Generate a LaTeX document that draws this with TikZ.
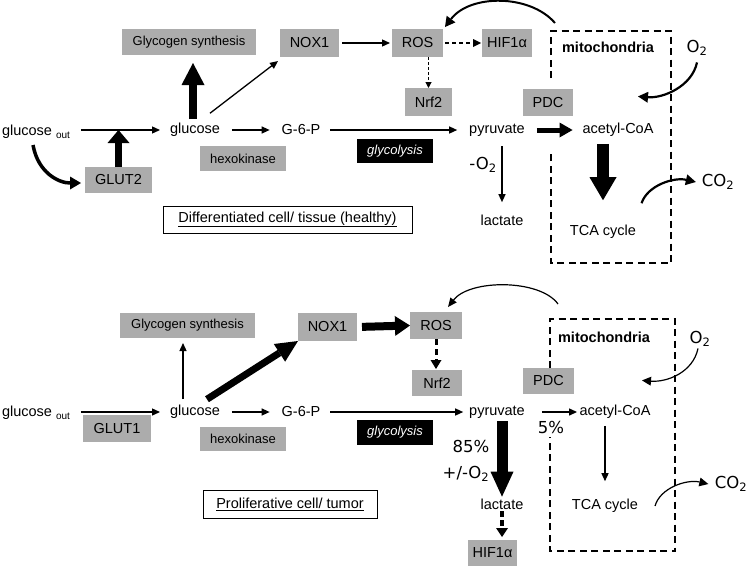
\documentclass[tikz,border=0pt]{standalone}
\usepackage{fontspec}
\setmainfont{Liberation Sans}
\newfontfamily\dvs{DejaVu Sans}
\usetikzlibrary{arrows.meta,calc}
\definecolor{boxgray}{RGB}{172,172,172}
\begin{document}
\begin{tikzpicture}[x=1pt,y=-1pt,
 every node/.style={inner sep=0pt, outer sep=0pt},
 sz/.style 2 args={minimum width=#1pt, minimum height=#2pt},
 txt/.style={font=\fontsize{14.5}{17}\selectfont},
 gbox/.style={fill=boxgray, font=\fontsize{14.5}{17}\selectfont},
 sbox/.style={fill=boxgray, font=\fontsize{13}{15}\selectfont},
 bbox/.style={fill=black, text=white, font=\fontsize{13}{15}\selectfont\itshape},
 lbl/.style={font=\dvs\fontsize{16.5}{19}\selectfont},
 mitotxt/.style={font=\bfseries\fontsize{14.5}{17}\selectfont},
 ttl/.style={draw=black, line width=1pt, fill=white, font=\fontsize{14.5}{17}\selectfont},
 arr/.style={line width=1.3pt, -{Triangle[length=8pt,width=7pt]}},
 fat/.style n args={3}{line width=#1pt, -{Triangle[width=#2pt,length=#3pt,line width=0pt]}},
 dbox/.style={line width=1.8pt, dash pattern=on 7pt off 4.5pt},
]
\useasboundingbox (0,0) rectangle (750,568);

% ================= TOP: differentiated cell =================
\node[txt, anchor=base west] (gout1) at (2,135) {glucose {\fontsize{10}{12}\selectfont\raisebox{-3pt}{out}}};
\node[txt] (glc1) at (195,130) {glucose};
\node[txt] (g6p1) at (301,130) {G-6-P};
\node[txt] (pyr1) at (497,130) {pyruvate};
\node[txt] (acoa1) at (618,130) {acetyl-CoA};
\node[txt] (tca1) at (603,232) {TCA cycle};
\node[txt] (lac1) at (502,220) {lactate};
\node[mitotxt] (mito1) at (608,47) {mitochondria};
\node[lbl] (o2a) at (697,48) {O\textsubscript{2}};
\node[lbl] (co2a) at (718,182) {CO\textsubscript{2}};
\node[lbl] (mo2) at (483,165) {-O\textsubscript{2}};

\node[sbox, sz={134}{26}] (gly1) at (189,42) {Glycogen synthesis};
\node[gbox, sz={59}{28}] (nox1) at (309.5,43) {NOX1};
\node[gbox, sz={51}{28}] (ros1) at (417.5,43) {ROS};
\node[gbox, sz={50}{28}] (hif1) at (507,43) {HIF1α};
\node[gbox, sz={47}{28}] (nrf1) at (428.5,102) {Nrf2};
\node[gbox, sz={50}{27}] (pdc1) at (548,102.5) {PDC};
\node[gbox, sz={67}{26}] (glut2) at (118.5,180) {GLUT2};
\node[sbox, sz={86}{25}] (hex1) at (243,158.5) {hexokinase};
\node[bbox, sz={76}{24}] (glyb1) at (395,151) {glycolysis};
\node[ttl, sz={249}{27}] (t1) at (287.5,219.5) {\underline{Differentiated cell/ tissue (healthy)}};

\coordinate (m1a) at (551,31);
\coordinate (m1b) at (671,263);
\draw[dbox] (551,78) -- (m1a) -- (m1a -| m1b) -- (m1b) -- (m1b -| m1a) -- (551,150);

\draw[arr, shorten <=11pt, shorten >=10pt] (gout1.east |- glc1.west) -- (glc1.west);
\coordinate (j1) at (glut2.north |- glc1.west);
\draw[fat={7}{22}{13}] (glut2.north) -- (j1);
\draw[line width=3.5pt, -{Triangle[width=13pt,length=11pt,line width=0pt]}]
  ($(gout1.base west)+(31,10)$) .. controls +(5,28) and +(-22,0) .. ($(glut2.west)+(-4,3)$);
\draw[fat={8}{23}{22}] ($(glc1.north)+(-2,-4)$) -- ($(gly1.south)+(4,8)$);
\draw[arr] ($(glc1.north east)+(-10,-10)$) -- ($(nox1.south west)+(-2,4)$);
\draw[arr, shorten <=3pt, shorten >=2pt] (nox1.east) -- (ros1.west);
\draw[line width=1.8pt, dash pattern=on 4pt off 3pt, -{Triangle[length=8pt,width=8pt,line width=0pt]}, shorten <=2pt, shorten >=1pt] (ros1.east) -- (hif1.west);
\draw[line width=1pt, dash pattern=on 3pt off 2pt, -{Triangle[length=6pt,width=6pt]}] (ros1.south -| nrf1.north) -- (nrf1.north);
\draw[line width=2pt, -{Triangle[length=10pt,width=11pt,line width=0pt]}]
  ($(m1a)+(4,-8)$) .. controls +(-25,-29) and +(25,-33) .. ($(ros1.north east)+(2,-2)$);
\draw[arr, shorten <=12pt, shorten >=12pt] (glc1.east) -- (g6p1.west);
\draw[arr, shorten <=10pt, shorten >=12pt] (g6p1.east) -- (pyr1.west);
\draw[fat={5}{15}{13}, shorten <=12pt, shorten >=10pt] (pyr1.east) -- (acoa1.west);
\draw[fat={12}{27}{23}, shorten <=7pt, shorten >=25pt] (acoa1.south -| tca1.north) -- (tca1.north);
\draw[arr, shorten <=10pt, shorten >=12.5pt] (pyr1.south -| lac1.north) -- (lac1.north);
\draw[line width=2.2pt, -{Triangle[length=10pt,width=11pt,line width=0pt]}]
  ($(o2a.south)+(0,7)$) .. controls +(-5,24) and +(25,2) .. ($(o2a.south)+(-59,41)$);
\draw[line width=2.2pt, -{Triangle[length=10pt,width=11pt,line width=0pt]}]
  ($(tca1.north east)+(5.5,-22)$) .. controls +(6,-18) and +(-22,-5) .. ($(co2a.west)+(-6,0)$);

% ================= BOTTOM: proliferative cell =================
\node[txt, anchor=base west] (gout2) at (2,416) {glucose {\fontsize{10}{12}\selectfont\raisebox{-3pt}{out}}};
\node[txt] (glc2) at (195,412) {glucose};
\node[txt] (g6p2) at (301,412) {G-6-P};
\node[txt] (pyr2) at (497,412) {pyruvate};
\node[txt] (acoa2) at (615,412) {acetyl-CoA};
\node[txt] (tca2) at (605,506) {TCA cycle};
\node[txt] (lac2) at (502,504) {lactate};
\node[mitotxt] (mito2) at (604,337) {mitochondria};
\node[lbl] (o2b) at (700,339) {O\textsubscript{2}};
\node[lbl] (co2b) at (731,484) {CO\textsubscript{2}};
\node[lbl] (p5) at (551,427) {5\%};
\node[lbl] (p85) at (471,446) {85\%};
\node[lbl] (pmo2) at (466,474) {+/-O\textsubscript{2}};

\node[sbox, sz={135}{25}] (gly2) at (187.5,325.5) {Glycogen synthesis};
\node[gbox, sz={59}{28}] (nox2) at (327.5,327) {NOX1};
\node[gbox, sz={52}{27}] (ros2) at (436,325.5) {ROS};
\node[gbox, sz={50}{26}] (nrf2) at (437,383) {Nrf2};
\node[gbox, sz={51}{26}] (pdc2) at (548.5,381) {PDC};
\node[gbox, sz={68}{27}] (glut1) at (117,428.5) {GLUT1};
\node[sbox, sz={86}{24}] (hex2) at (243,439) {hexokinase};
\node[bbox, sz={76}{25}] (glyb2) at (395,432.5) {glycolysis};
\node[gbox, sz={49}{26}] (hif2) at (492.5,553) {HIF1α};
\node[ttl, sz={174}{28}] (t2) at (290,504) {\underline{Proliferative cell/ tumor}};

\coordinate (m2a) at (550,319);
\coordinate (m2b) at (675,551);
\draw[dbox] (550,368) -- (m2a) -- (m2a -| m2b) -- (m2b) -- (m2b -| m2a) -- (550,437);

\draw[arr, shorten <=11pt, shorten >=10pt] (gout2.east |- glc2.west) -- (glc2.west);
\draw[arr] ($(glc2.north)+(-12,-6)$) -- ($(gly2.south)+(-4.5,5)$);
\draw[fat={7}{21}{22}] ($(glc2.north east)+(-13,-6)$) -- (nox2.south west);
\draw[fat={8}{20}{15}, shorten <=5pt] (nox2.east) -- (ros2.west);
\draw[line width=3pt, dash pattern=on 6pt off 4pt, -{Triangle[length=9pt,width=11pt,line width=0pt]}, shorten >=1pt] (ros2.south) -- (ros2.south |- nrf2.north);
\draw[line width=1.2pt, -{Triangle[length=9pt,width=8pt,line width=0pt]}]
  ($(m2a)+(8,-15)$) .. controls +(-18,-25) and +(22,-28) .. ($(ros2.north east)+(-14,-5)$);
\draw[arr, shorten <=12pt, shorten >=12pt] (glc2.east) -- (g6p2.west);
\draw[arr, shorten <=10pt, shorten >=6pt] (g6p2.east) -- (pyr2.west);
\draw[arr, shorten <=17pt, shorten >=2.5pt] (pyr2.east) -- (acoa2.west);
\draw[arr, shorten <=7pt, shorten >=18pt] (acoa2.south -| tca2.north) -- (tca2.north);
\draw[fat={11}{23}{25}, shorten <=3pt, shorten >=2pt] (pyr2.south -| lac2.north) -- (lac2.north);
\draw[line width=4pt, dash pattern=on 6pt off 3pt, -{Triangle[length=9pt,width=12pt,line width=0pt]}, shorten <=2pt, shorten >=3pt] (lac2.south) -- (lac2.south |- hif2.north);
\draw[line width=1.2pt, -{Triangle[length=9pt,width=9pt,line width=0pt]}]
  ($(o2b.south)+(-2,2)$) .. controls +(-5,24) and +(25,2) .. ($(o2b.south)+(-58,34)$);
\draw[line width=1.2pt, -{Triangle[length=9pt,width=9pt,line width=0pt]}]
  ($(tca2.east)+(17,0)$) .. controls +(5,-18) and +(-22,-5) .. ($(co2b.west)+(-6.5,0)$);
\end{tikzpicture}
\end{document}
